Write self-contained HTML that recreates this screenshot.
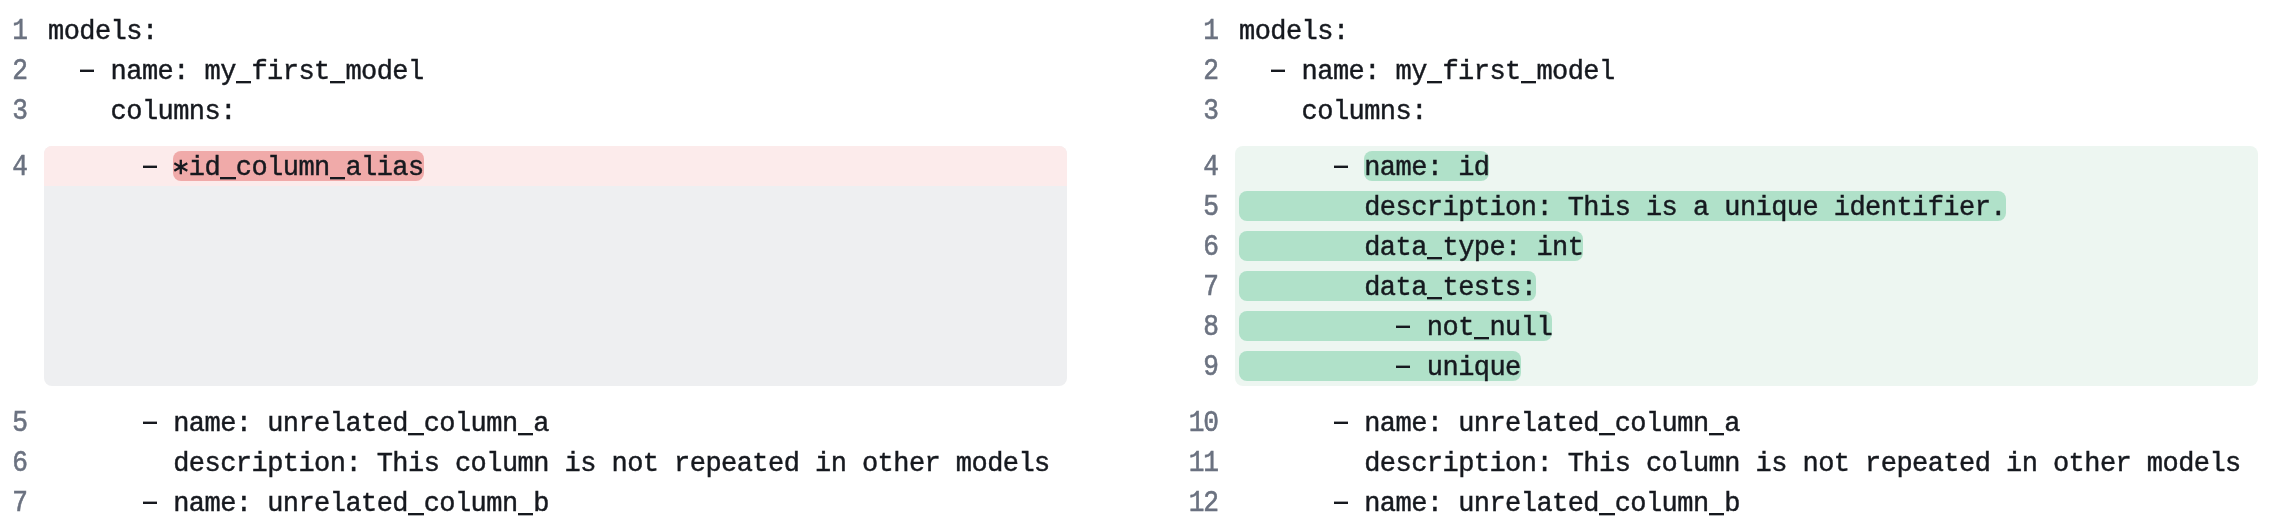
<!DOCTYPE html>
<html>
<head>
<meta charset="utf-8">
<title>diff</title>
<style>
html,body{margin:0;padding:0;background:#fff;}
body{width:2278px;height:528px;position:relative;overflow:hidden;
  font-family:"Liberation Mono",monospace;font-size:27px;line-height:40px;
  letter-spacing:-0.55px;color:#16191f;-webkit-text-stroke:0.45px currentColor;}
.blk{position:absolute;top:146px;height:240px;width:1023px;border-radius:8px;overflow:hidden;}
.blk i{position:absolute;left:0;right:0;display:block;}
.L,.R{position:absolute;left:0;top:0;width:2278px;height:528px;will-change:transform;}
.row{position:absolute;height:40px;white-space:pre;margin-top:2px;}
.ln{position:absolute;margin-top:2px;height:40px;text-align:right;color:#6b7280;white-space:pre;font-size:28.5px;letter-spacing:-1.45px;-webkit-text-stroke:0.55px currentColor;transform:translateX(-0.4px) scale(0.92,1.05);transform-origin:50% 28.6px;}
.L .ln{right:2250px;}
.R .ln{right:1059px;}
.L .row{left:48px;}
.R .row{left:1239px;}
.hl{display:inline-block;height:40px;vertical-align:top;position:relative;z-index:0;}
.hl::before{content:"";position:absolute;left:0;right:0;top:3px;height:30px;border-radius:8px;z-index:-1;}
.del::before{background:#f0aaa9;}
.add::before{background:#b0e1c9;}
.d{display:inline-block;width:15.65px;height:40px;vertical-align:top;position:relative;color:transparent;overflow:hidden;-webkit-text-stroke:0;}
.d::after{content:"";position:absolute;left:0.7px;width:14px;top:17px;height:3px;background:linear-gradient(to bottom,rgba(22,25,31,.4) 0,rgba(22,25,31,.4) 1px,#16191f 1px,#16191f 3px);}
u{text-decoration:none;display:inline-block;width:15.65px;height:40px;vertical-align:top;position:relative;color:transparent;overflow:hidden;-webkit-text-stroke:0;}
u::after{content:"";position:absolute;left:0;width:15.65px;top:29px;height:3px;background:linear-gradient(to bottom,#16191f 0,#16191f 2px,rgba(22,25,31,.35) 2px,rgba(22,25,31,.35) 3px);}
.ast{display:inline-block;width:15.65px;height:40px;vertical-align:top;position:relative;color:transparent;overflow:hidden;-webkit-text-stroke:0;}
.ast svg{position:absolute;left:0;top:8.75px;width:15.65px;height:20px;}
</style>
</head>
<body>
<!-- backgrounds -->
<div class="blk" style="left:44px;background:#eeeff1;"><i style="top:0;height:40px;background:#fcebeb;"></i></div>
<div class="blk" style="left:1235px;background:#edf6f1;"></div>

<div class="L">
<div class="ln" style="top:10px">1</div><div class="row" style="top:10px">models:</div>
<div class="ln" style="top:50px">2</div><div class="row" style="top:50px">  <b class="d">-</b> name: my<u>_</u>first<u>_</u>model</div>
<div class="ln" style="top:90px">3</div><div class="row" style="top:90px">    columns:</div>
<div class="ln" style="top:146px">4</div><div class="row" style="top:146px">      <b class="d">-</b> <span class="hl del"><b class="ast">*<svg viewBox="0 0 15.65 20"><g stroke="#16191f" stroke-width="2.3" fill="none"><path d="M7.8 2.7V17.3M1.3 6.3L14.3 13.7M14.3 6.3L1.3 13.7"/></g></svg></b>id<u>_</u>column<u>_</u>alias</span></div>
<div class="ln" style="top:402px">5</div><div class="row" style="top:402px">      <b class="d">-</b> name: unrelated<u>_</u>column<u>_</u>a</div>
<div class="ln" style="top:442px">6</div><div class="row" style="top:442px">        description: This column is not repeated in other models</div>
<div class="ln" style="top:482px">7</div><div class="row" style="top:482px">      <b class="d">-</b> name: unrelated<u>_</u>column<u>_</u>b</div>
</div>

<div class="R">
<div class="ln" style="top:10px">1</div><div class="row" style="top:10px">models:</div>
<div class="ln" style="top:50px">2</div><div class="row" style="top:50px">  <b class="d">-</b> name: my<u>_</u>first<u>_</u>model</div>
<div class="ln" style="top:90px">3</div><div class="row" style="top:90px">    columns:</div>
<div class="ln" style="top:146px">4</div><div class="row" style="top:146px">      <b class="d">-</b> <span class="hl add">name: id</span></div>
<div class="ln" style="top:186px">5</div><div class="row" style="top:186px"><span class="hl add">        description: This is a unique identifier.</span></div>
<div class="ln" style="top:226px">6</div><div class="row" style="top:226px"><span class="hl add">        data<u>_</u>type: int</span></div>
<div class="ln" style="top:266px">7</div><div class="row" style="top:266px"><span class="hl add">        data<u>_</u>tests:</span></div>
<div class="ln" style="top:306px">8</div><div class="row" style="top:306px"><span class="hl add">          <b class="d">-</b> not<u>_</u>null</span></div>
<div class="ln" style="top:346px">9</div><div class="row" style="top:346px"><span class="hl add">          <b class="d">-</b> unique</span></div>
<div class="ln" style="top:402px">10</div><div class="row" style="top:402px">      <b class="d">-</b> name: unrelated<u>_</u>column<u>_</u>a</div>
<div class="ln" style="top:442px">11</div><div class="row" style="top:442px">        description: This column is not repeated in other models</div>
<div class="ln" style="top:482px">12</div><div class="row" style="top:482px">      <b class="d">-</b> name: unrelated<u>_</u>column<u>_</u>b</div>
</div>
</body>
</html>
